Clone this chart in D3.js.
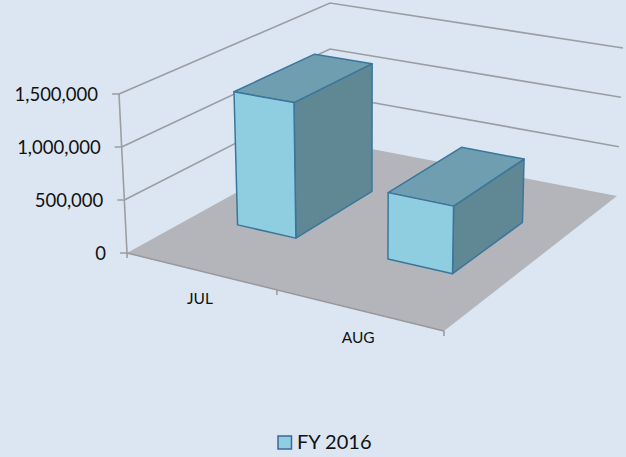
<!DOCTYPE html>
<html>
<head>
<meta charset="utf-8">
<script src="https://cdn.jsdelivr.net/npm/d3@7"></script>
<style>
  html, body { margin: 0; padding: 0; background: #dce6f2; }
  svg { display: block; }
  text { font-family: Lato, "Open Sans", sans-serif; fill: #111; }
</style>
</head>
<body>
<div id="chart"></div>
<script>
const categories = ['JUL', 'AUG'];
const seriesName = 'FY 2016';
const values = [1290000, 615000];
const valueTicks = [0, 500000, 1000000, 1500000];

const width = 626;
const height = 457;

// box corners as seen on screen, floor level
const A = { x: 127, y: 253, rise: 159, lean: -8 }; // front left
const B = { x: 444, y: 331, rise: 175, lean: 3 }; // front right
const C = { x: 617, y: 196, rise: 148, lean: 6 }; // back right
const D = { x: 330, y: 141, rise: 138, lean: 0 }; // back left

// unit square -> floor quad
const sx = A.x - B.x + C.x - D.x;
const sy = A.y - B.y + C.y - D.y;
const dx1 = B.x - C.x;
const dx2 = D.x - C.x;
const dy1 = B.y - C.y;
const dy2 = D.y - C.y;
const den = dx1 * dy2 - dx2 * dy1;
const g = (sx * dy2 - dx2 * sy) / den;
const h = (dx1 * sy - sx * dy1) / den;
const a = B.x - A.x + g * B.x;
const b = D.x - A.x + h * D.x;
const d = B.y - A.y + g * B.y;
const e = D.y - A.y + h * D.y;

const xBand = d3.scaleBand().domain(categories).range([0, 1]).paddingInner(0.6).paddingOuter(0.3);
const zBand = d3.scaleBand().domain([seriesName]).range([0, 1]).padding(0.435);
const yScale = d3.scaleLinear().domain([0, 1500000]).range([0, 1]);

const project = (u, v, value) => {
  const w = g * u + h * v + 1;
  const mix = (k) =>
    A[k] * (1 - u) * (1 - v) + B[k] * u * (1 - v) + C[k] * u * v + D[k] * (1 - u) * v;
  const t = yScale(value);
  return [(a * u + b * v + A.x) / w + mix('lean') * t, (d * u + e * v + A.y) / w - mix('rise') * t];
};

const svg = d3.select('#chart').append('svg').attr('width', width).attr('height', height);
const line = d3.line();

svg.append('rect').attr('width', width).attr('height', height).attr('fill', '#dce6f2');

// floor
svg
  .append('path')
  .attr('d', line([[0, 0], [1, 0], [1, 1], [0, 1]].map(([u, v]) => project(u, v, 0))) + 'Z')
  .attr('fill', '#b3b5ba');

// wall gridlines
svg
  .selectAll('.grid')
  .data(valueTicks.slice(1))
  .enter()
  .append('path')
  .attr('class', 'grid')
  .attr('fill', 'none')
  .attr('stroke', '#9a9ea3')
  .attr('stroke-width', 1.6)
  .attr('d', (t) => line([project(0, 0, t), project(0, 1, t), project(1, 1, t)]));

// value axis
svg
  .append('path')
  .attr('fill', 'none')
  .attr('stroke', '#9c9ea2')
  .attr('stroke-width', 1.6)
  .attr('d', line([project(0, 0, 0), project(0, 0, valueTicks[valueTicks.length - 1])]));

svg
  .selectAll('.ytick')
  .data(valueTicks)
  .enter()
  .append('path')
  .attr('class', 'ytick')
  .attr('stroke', '#9c9ea2')
  .attr('stroke-width', 1.5)
  .attr('d', (t) => {
    const p = project(0, 0, t);
    return line([[p[0] - 7, p[1]], p]);
  });

svg
  .selectAll('.ylabel')
  .data(valueTicks)
  .enter()
  .append('text')
  .attr('class', 'ylabel')
  .attr('x', (t) => project(0, 0, t)[0] - 21)
  .attr('y', (t) => project(0, 0, t)[1] + 7)
  .attr('text-anchor', 'end')
  .attr('font-size', '18.5px')
  .text((t) => d3.format(',')(t));

// category axis
svg
  .append('path')
  .attr('fill', 'none')
  .attr('stroke', '#96989c')
  .attr('stroke-width', 1.5)
  .attr('d', line([project(0, 0, 0), project(1, 0, 0)]));

svg
  .selectAll('.xtick')
  .data([0, 0.5, 1])
  .enter()
  .append('path')
  .attr('class', 'xtick')
  .attr('stroke', '#96989c')
  .attr('stroke-width', 1.5)
  .attr('d', (u) => {
    const p = project(u, 0, 0);
    return line([p, [p[0], p[1] + 5]]);
  });

svg
  .selectAll('.xlabel')
  .data(categories)
  .enter()
  .append('text')
  .attr('class', 'xlabel')
  .attr('x', (c) => project(xBand(c) + xBand.bandwidth() / 2, 0, 0)[0])
  .attr('y', (c) => project(xBand(c) + xBand.bandwidth() / 2, 0, 0)[1] + 33)
  .attr('text-anchor', 'middle')
  .attr('font-size', '15.5px')
  .text((c) => c);

// bars
const bars = svg
  .selectAll('.bar')
  .data(categories.map((c, i) => ({ c, value: values[i] })))
  .enter()
  .append('g')
  .attr('class', 'bar')
  .attr('stroke', '#3a769c')
  .attr('stroke-width', 1.5)
  .attr('stroke-linejoin', 'round');

const box = (r) => {
  const u0 = xBand(r.c);
  const u1 = u0 + xBand.bandwidth();
  const v0 = zBand(seriesName);
  const v1 = v0 + zBand.bandwidth();
  return { u0, u1, v0, v1 };
};

bars
  .append('path')
  .attr('fill', '#5f8794')
  .attr('d', (r) => {
    const { u1, v0, v1 } = box(r);
    return line([project(u1, v0, 0), project(u1, v1, 0), project(u1, v1, r.value), project(u1, v0, r.value)]) + 'Z';
  });

bars
  .append('path')
  .attr('fill', '#6f9eb0')
  .attr('d', (r) => {
    const { u0, u1, v0, v1 } = box(r);
    return line([project(u0, v0, r.value), project(u1, v0, r.value), project(u1, v1, r.value), project(u0, v1, r.value)]) + 'Z';
  });

bars
  .append('path')
  .attr('fill', '#8fcde0')
  .attr('d', (r) => {
    const { u0, u1, v0 } = box(r);
    return line([project(u0, v0, 0), project(u1, v0, 0), project(u1, v0, r.value), project(u0, v0, r.value)]) + 'Z';
  });

// legend
svg
  .append('rect')
  .attr('x', 278)
  .attr('y', 436)
  .attr('width', 13.5)
  .attr('height', 13)
  .attr('fill', '#8fcde0')
  .attr('stroke', '#3f6797')
  .attr('stroke-width', 1.5);

svg
  .append('text')
  .attr('x', 297)
  .attr('y', 449)
  .attr('font-size', '20px')
  .text(seriesName);
</script>
</body>
</html>
